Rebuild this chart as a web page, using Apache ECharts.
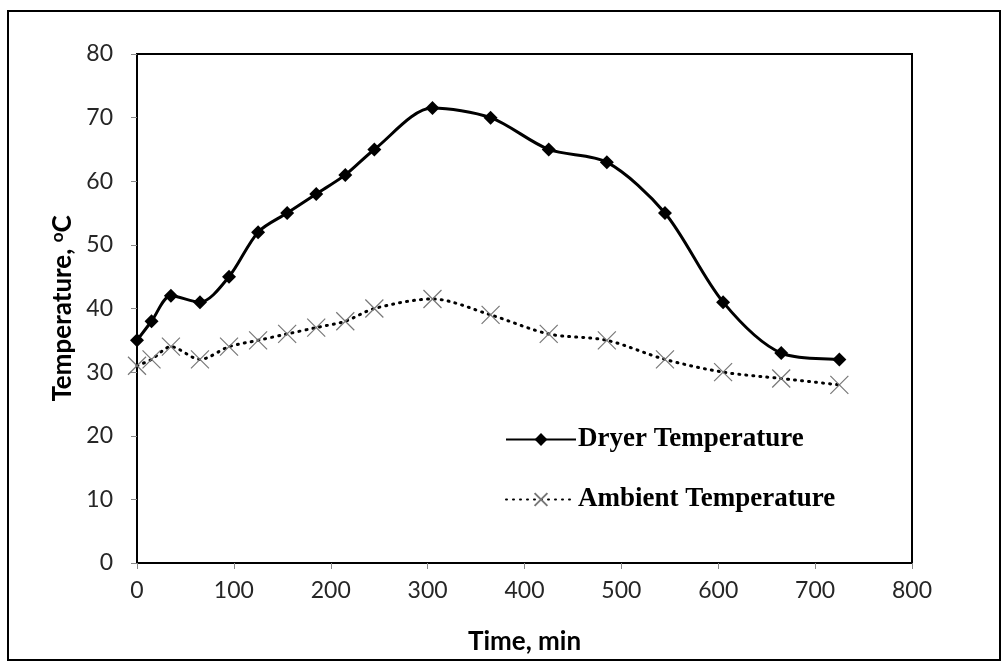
<!DOCTYPE html>
<html>
<head>
<meta charset="utf-8">
<script src="https://cdn.jsdelivr.net/npm/echarts@6/dist/echarts.min.js"></script>
<style>
  html, body { margin: 0; padding: 0; background: #fff; }
  #main { width: 1007px; height: 671px; }
</style>
</head>
<body>
<div id="main"></div>
<script>
// time, min
var timeDryer = [0, 15, 35, 65, 95, 125, 155, 185, 215, 245, 305, 365, 425, 485, 545, 605, 665, 725];
var dryerTemp = [35, 38, 42, 41, 45, 52, 55, 58, 61, 65, 71.5, 70, 65, 63, 55, 41, 33, 32];
var timeAmbient = [0, 15, 35, 65, 95, 125, 155, 185, 215, 245, 305, 365, 425, 485, 545, 605, 665, 725];
var ambientTemp = [31, 32, 34, 32, 34, 35, 36, 37, 38, 40, 41.5, 39, 36, 35, 32, 30, 29, 28];

function pairs(xs, ys) {
  var out = [];
  for (var i = 0; i < xs.length; i++) out.push([xs[i], ys[i]]);
  return out;
}

var chart = echarts.init(document.getElementById("main"));
var crossPath = "path://M0,0L10,10M10,0L0,10";

var option = {
  backgroundColor: "#fff",
  animation: false,
  graphic: [
    {
      type: "rect",
      shape: { x: 8, y: 11, width: 992, height: 649 },
      style: { fill: "none", stroke: "#000", lineWidth: 2 },
      silent: true
    }
  ],
  grid: {
    left: 137,
    right: 95,
    top: 54,
    bottom: 108,
    show: true,
    borderColor: "#000",
    borderWidth: 2,
    backgroundColor: "transparent"
  },
  legend: {
    orient: "vertical",
    left: 500,
    top: 421,
    itemWidth: 70,
    itemHeight: 16,
    itemGap: 33,
    textStyle: {
      fontFamily: "Liberation Serif",
      fontWeight: "bold",
      fontSize: 27,
      color: "#000",
      padding: [0, 0, 0, -3]
    },
    data: ["Dryer Temperature", "Ambient Temperature"]
  },
  xAxis: {
    type: "value",
    min: 0,
    max: 800,
    interval: 100,
    name: "Time, min",
    nameLocation: "middle",
    nameGap: 66,
    nameTextStyle: { fontFamily: "Lato", fontWeight: "bold", fontSize: 26, color: "#000" },
    axisLine: { show: true, lineStyle: { color: "#000", width: 2 } },
    axisTick: { show: true, inside: false, length: 6, lineStyle: { color: "#888" } },
    axisLabel: { fontFamily: "Lato", fontSize: 23, color: "#262626", margin: 16 },
    splitLine: { show: false }
  },
  yAxis: {
    type: "value",
    min: 0,
    max: 80,
    interval: 10,
    name: "{n|Temperature, }{s|o}{n|C}",
    nameLocation: "middle",
    nameGap: 58,
    nameTextStyle: {
      rich: {
        n: { fontFamily: "Lato", fontWeight: "bold", fontSize: 26, color: "#000" },
        s: { fontFamily: "Lato", fontWeight: "bold", fontSize: 17, color: "#000", verticalAlign: "top", padding: [0, 0, 10, 0] }
      }
    },
    axisLine: { show: true, lineStyle: { color: "#000", width: 2 } },
    axisTick: { show: true, inside: false, length: 6, lineStyle: { color: "#888" } },
    axisLabel: { fontFamily: "Lato", fontSize: 23, color: "#262626", margin: 24 },
    splitLine: { show: false }
  },
  series: [
    {
      name: "Dryer Temperature",
      type: "line",
      smooth: 0.3,
      data: pairs(timeDryer, dryerTemp),
      symbol: "diamond",
      symbolSize: 14,
      itemStyle: { color: "#000" },
      lineStyle: { color: "#000", width: 3 },
      z: 3
    },
    {
      name: "Ambient Temperature",
      type: "line",
      smooth: 0.3,
      data: pairs(timeAmbient, ambientTemp),
      symbol: crossPath,
      symbolSize: 18,
      itemStyle: { color: "none", borderColor: "#777", borderWidth: 1.2 },
      lineStyle: { color: "#000", width: 3, type: [1, 6], cap: "round" },
      z: 2
    }
  ]
};

chart.setOption(option);
</script>
</body>
</html>
